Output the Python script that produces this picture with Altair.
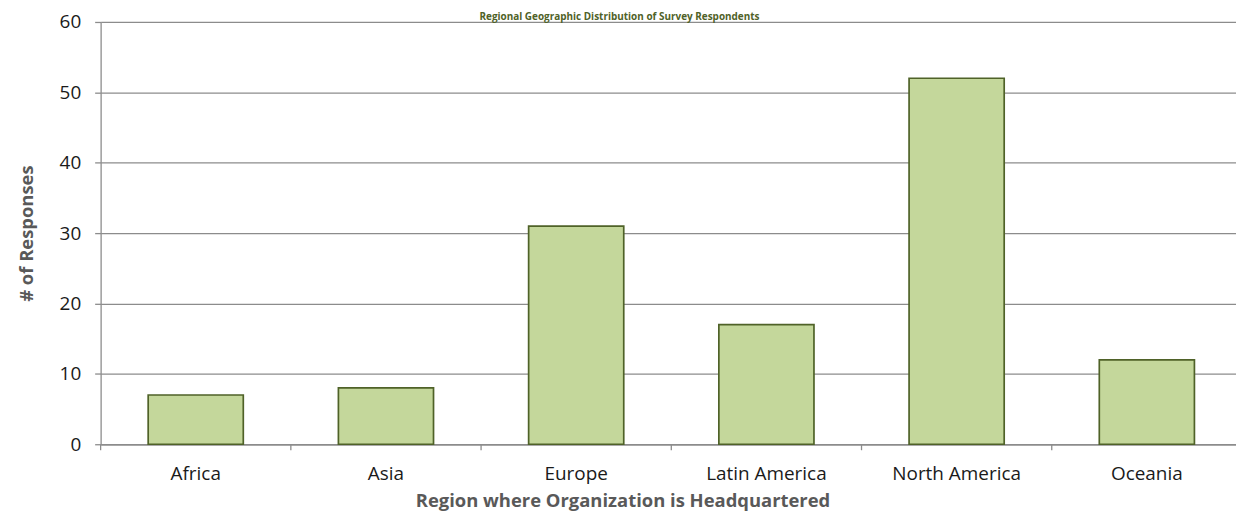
import altair as alt
import pandas as pd

regions = ["Africa", "Asia", "Europe", "Latin America", "North America", "Oceania"]
responses = [7, 8, 31, 17, 52, 12]
y_ticks = [0, 10, 20, 30, 40, 50, 60]

title_text = "Regional Geographic Distribution of Survey Respondents"
x_title = "Region where Organization is Headquartered"
y_title = "# of Responses"

df = pd.DataFrame({"region": regions, "responses": responses})
title_df = pd.DataFrame({"t": [title_text]})

FONT = "Open Sans"
GRID = "#8c8c8c"

x_scale = alt.Scale(paddingInner=0, paddingOuter=0)

x_axis = alt.Axis(
    title=x_title,
    labelAngle=0,
    ticks=False,
    labelPadding=20,
    labelFont=FONT,
    labelFontSize=19,
    labelColor="#1a1a1a",
    domainColor=GRID,
    domainWidth=1.3,
    titleFont=FONT,
    titleFontSize=18.5,
    titleFontWeight="bold",
    titleColor="#595959",
    titleX=524,
    titleY=57,
    titleBaseline="middle",
    titleAlign="center",
)

y_axis = alt.Axis(
    title=y_title,
    values=y_ticks,
    grid=True,
    gridColor=GRID,
    gridWidth=1.3,
    domainColor=GRID,
    domainWidth=1.3,
    tickColor=GRID,
    tickWidth=1.3,
    tickSize=6,
    labelPadding=14,
    labelFont=FONT,
    labelFontSize=19,
    labelColor="#1a1a1a",
    titleFont=FONT,
    titleFontSize=18.5,
    titleFontWeight="bold",
    titleColor="#595959",
    titleAngle=-90,
    titleX=-74,
    titleY=212,
    titleBaseline="middle",
    titleAlign="center",
)

base = alt.Chart(df)

bars = base.mark_bar(
    width=alt.RelativeBandSize(0.5),
    fill="#C4D79B",
    stroke="#4F6228",
    strokeWidth=1.7,
).encode(
    x=alt.X("region:N", sort=regions, scale=x_scale, axis=x_axis),
    y=alt.Y("responses:Q", scale=alt.Scale(domain=[0, 60], nice=False), axis=y_axis),
)

cat_ticks = base.mark_rule(color=GRID, strokeWidth=1.3).encode(
    x=alt.X("region:N", sort=regions, scale=x_scale, bandPosition=0, title=x_title),
    y=alt.value(424),
    y2=alt.value(430),
)

# chart title, shrunk to fit the narrow strip above the plot
title_mark = alt.Chart(title_df).mark_text(
    font=FONT,
    fontSize=10,
    fontWeight="bold",
    color="#4F6228",
    align="center",
    baseline="alphabetic",
).encode(
    text="t:N",
    x=alt.value(521),
    y=alt.value(-1.5),
)

chart = alt.layer(bars, cat_ticks, title_mark).properties(
    width=1146,
    height=424,
    autosize=alt.AutoSizeParams(type="none"),
    padding={"left": 93, "top": 13, "right": -6, "bottom": 67},
    background="white",
).configure_view(stroke=None)

chart.save("out.html", embed_options={"renderer": "svg", "actions": False})
